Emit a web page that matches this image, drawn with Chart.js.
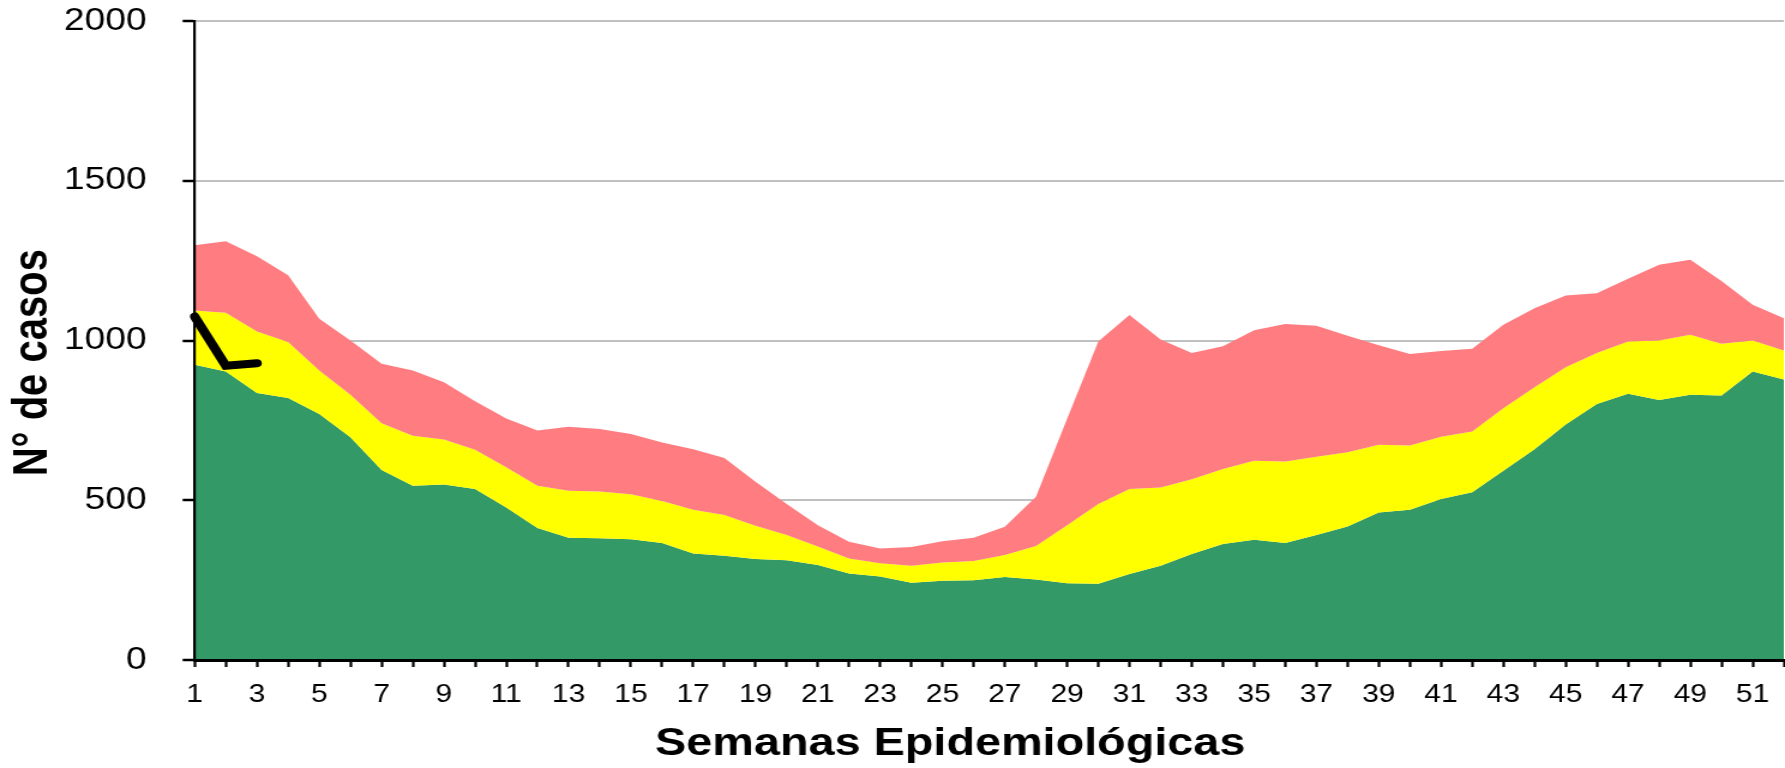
<!DOCTYPE html>
<html>
<head>
<meta charset="utf-8">
<script src="https://cdn.jsdelivr.net/npm/chart.js@4.4.1/dist/chart.umd.min.js"></script>
<style>
html,body{margin:0;padding:0;background:#fff;overflow:hidden}
</style>
</head>
<body>
<canvas id="c" width="1488" height="768" style="display:block;width:1785px;height:768px"></canvas>
<script>
// Semanas epidemiológicas
const weeks = ['1','2','3','4','5','6','7','8','9','10','11','12','13','14','15','16','17','18','19','20','21','22','23','24','25','26','27','28','29','30','31','32','33','34','35','36','37','38','39','40','41','42','43','44','45','46','47','48','49','50','51','52'];
// Zona de éxito (límite superior, verde)
const q1Values = [924,903,836,820,770,697,595,545,549,535,477,413,383,381,378,366,333,326,316,312,297,271,261,242,248,250,260,252,240,239,269,295,332,363,376,366,391,418,462,470,504,525,592,660,737,801,833,814,830,828,903,878];
// Zona de seguridad (límite superior, amarillo)
const medianValues = [1094,1087,1028,995,906,830,741,702,690,658,603,545,530,527,519,498,470,454,420,391,355,318,303,295,305,310,329,357,422,488,535,540,566,598,624,621,636,650,674,671,699,715,788,854,916,961,997,1000,1018,990,1000,969];
// Zona de alarma (límite superior, rojo)
const q3Values = [1298,1311,1264,1204,1068,1000,927,906,869,810,756,718,730,723,707,681,660,632,558,488,422,370,349,354,372,383,417,511,755,997,1080,1003,961,982,1032,1052,1046,1015,985,958,967,974,1049,1101,1141,1148,1193,1237,1253,1186,1112,1070];
// Casos del año actual
const currentValues = [1075,921,929];
// Marcas del eje Y
const yTickValues = [0,500,1000,1500,2000];

const FONT = "'Liberation Sans', Arial, Helvetica, sans-serif";

new Chart(document.getElementById('c'), {
  type: 'line',
  data: {
    labels: weeks,
    datasets: [
      {label:'Éxito', data:q1Values, backgroundColor:'#339966', borderWidth:0, fill:'origin', pointRadius:0, order:3},
      {label:'Seguridad', data:medianValues, backgroundColor:'#FFFF00', borderWidth:0, fill:'-1', pointRadius:0, order:2},
      {label:'Alarma', data:q3Values, backgroundColor:'#FF7C80', borderWidth:0, fill:'-1', pointRadius:0, order:1},
      {label:'Casos', data:currentValues, borderColor:'#000000', borderWidth:8, fill:false, pointRadius:0, borderCapStyle:'round', borderJoinStyle:'miter', order:0}
    ]
  },
  options: {
    responsive:false,
    animation:false,
    devicePixelRatio:1,
    layout:{padding:{top:21,right:1,bottom:0,left:0}},
    plugins:{legend:{display:false}, tooltip:{enabled:false}},
    elements:{line:{tension:0}},
    scales:{
      x:{
        type:'category',
        offset:false,
        grid:{drawOnChartArea:false, drawTicks:true, tickLength:7, tickWidth:2.2, tickColor:'#000'},
        border:{display:true, color:'#000', width:3, z:1},
        ticks:{autoSkip:false, maxRotation:0, minRotation:0, padding:13, color:'#000',
               font:{family:FONT, size:25},
               callback:(v,i)=> (i % 2 === 0 ? weeks[i] : '')},
        title:{display:true, text:'Semanas Epidemiológicas      ', color:'#000',
               font:{family:FONT, size:39, weight:'bold'}, padding:{top:0,bottom:0}},
        afterFit:s=>{ s.height = 108; s.paddingLeft = 0; s.paddingRight = 0; }
      },
      y:{
        min:0, max:2000,
        afterBuildTicks:s=>{ s.ticks = yTickValues.map(v=>({value:v})); },
        grid:{color:'#c0c0c0', lineWidth:2, drawTicks:true, tickLength:10, tickColor:'#000', tickWidth:2.5},
        border:{display:true, color:'#000', width:2.2, z:1},
        ticks:{padding:30, color:'#000', font:{family:FONT, size:31}, callback:v=>String(v)},
        title:{display:true, text:'N° de casos    ', color:'#000',
               font:{family:FONT, size:40, weight:'bold'}, padding:{top:4,bottom:0}},
        afterFit:s=>{ s.width = 162.25; s.paddingTop = 0; s.paddingBottom = 0; }
      }
    }
  }
});
</script>
</body>
</html>
